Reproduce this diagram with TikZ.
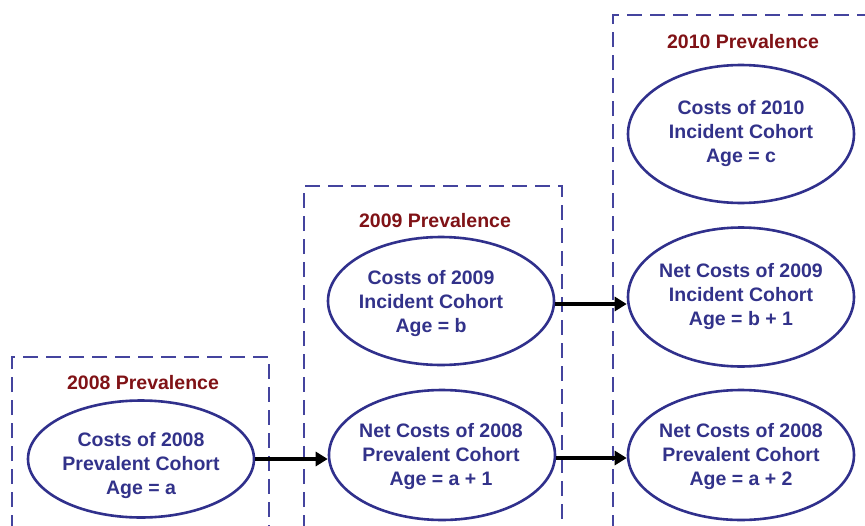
\documentclass[tikz,border=0pt]{standalone}
\usepackage{fontspec}
\setmainfont{Liberation Sans}
\usetikzlibrary{shapes.geometric,arrows.meta}
\definecolor{txtblue}{RGB}{50,50,138}
\definecolor{ellblue}{RGB}{48,48,140}
\definecolor{dashblue}{RGB}{68,68,158}
\definecolor{titlered}{RGB}{128,18,22}
\tikzset{
  x=1pt, y=-1pt,
  cohort/.style={ellipse, draw=ellblue, line width=2.6pt, fill=white, inner sep=0pt,
    minimum width=226pt, minimum height=#1},
  cohort/.default=130pt,
  ctext/.style={font=\fontsize{19.5}{24}\selectfont\bfseries, text=txtblue, align=center, inner sep=0pt},
  ptitle/.style={font=\fontsize{19.5}{24}\selectfont\bfseries, text=titlered, inner sep=0pt},
  yearbox/.style={draw=dashblue, line width=2.6pt, dash pattern=on 15pt off 8pt},
  arr/.style={draw=black, line width=3.2pt, -{Triangle[length=12pt,width=14pt]}}
}
\begin{document}
\begin{tikzpicture}
\useasboundingbox[fill=white] (0,0) rectangle (865,525);
\begin{scope}
\clip (0,0) rectangle (865,525);
% year boxes (open at the bottom / right)
\draw[yearbox] (12,530) -- (12,357) -- (269,357) -- (269,530);
\draw[yearbox] (304,530) -- (304,186) -- (562,186) -- (562,530);
\draw[yearbox] (613,530) -- (613,15) -- (870,15);
\end{scope}
% titles
\node[ptitle] (t8) at (143,383) {2008 Prevalence};
\node[ptitle] (t9) at (435,221) {2009 Prevalence};
\node[ptitle] (t10) at (743,42) {2010 Prevalence};
% ellipses
\node[cohort=117pt] (e1) at (141,459) {};
\node[cohort=128pt] (e2) at (441,301) {};
\node[cohort=130pt] (e3) at (442,455) {};
\node[cohort=138pt] (e4) at (741,134) {};
\node[cohort=139pt] (e5) at (741,297) {};
\node[cohort=130pt] (e6) at (741,455) {};
% texts
\node[ctext] (l1) at (141,465) {Costs of 2008\\Prevalent Cohort\\Age = a};
\node[ctext] (l2) at (431,303) {Costs of 2009\\Incident Cohort\\Age = b};
\node[ctext] (l3) at (441,456) {Net Costs of 2008\\Prevalent Cohort\\Age = a + 1};
\node[ctext] (l4) at (741,133) {Costs of 2010\\Incident Cohort\\Age = c};
\node[ctext] (l5) at (741,296) {Net Costs of 2009\\Incident Cohort\\Age = b + 1};
\node[ctext] (l6) at (741,456) {Net Costs of 2008\\Prevalent Cohort\\Age = a + 2};
% arrows
\draw[arr] (e1.east) -- (e1.east -| e3.west);
\draw[arr] ([yshift=-3pt]e2.east) -- ([yshift=-3pt]e2.east -| e5.west);
\draw[arr] ([yshift=-3pt]e3.east) -- ([yshift=-3pt]e3.east -| e6.west);
\end{tikzpicture}
\end{document}
